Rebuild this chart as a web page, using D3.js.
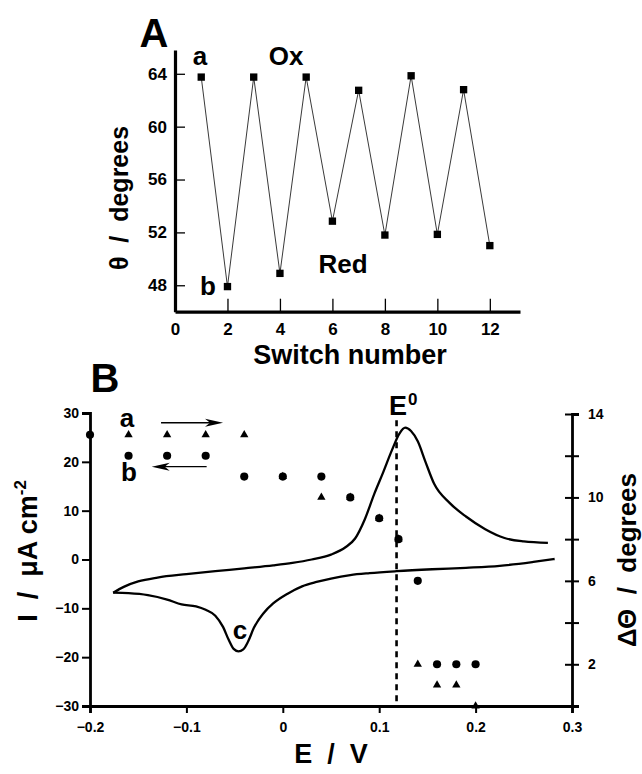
<!DOCTYPE html>
<html>
<head>
<meta charset="utf-8">
<script src="https://cdn.jsdelivr.net/npm/d3@7"></script>
<style>
  body { margin: 0; background: #fff; }
  svg { display: block; font-family: "Liberation Sans", Arial, sans-serif; font-weight: bold; }
  .axis path, .axis line { stroke: #000; }
  .axis text { font-family: "Liberation Sans", Arial, sans-serif; font-weight: bold; fill: #000; }
</style>
</head>
<body>
<svg id="chart" width="642" height="774"></svg>
<script>
// Panel A: contact angle vs switch number
const switchNumbers = [1, 2, 3, 4, 5, 6, 7, 8, 9, 10, 11, 12];
const contactAngle = [63.75, 47.9, 63.75, 48.9, 63.75, 52.85, 62.75, 51.8, 63.85, 51.85, 62.8, 51.0];
const switchTicks = [0, 2, 4, 6, 8, 10, 12];
const angleTicks = [48, 52, 56, 60, 64];

// Panel B: cyclic voltammogram, forward (anodic) sweep and reverse sweep
const cvForwardE = [-0.176, -0.165, -0.15, -0.13, -0.1, -0.07, -0.04, -0.01, 0.01, 0.03, 0.05, 0.065, 0.075,
  0.085, 0.095, 0.104, 0.113, 0.121, 0.127, 0.133, 0.14, 0.148, 0.157, 0.173, 0.19, 0.21, 0.23, 0.25, 0.275];
const cvForwardI = [-6.8, -5.6, -4.5, -3.7, -3.0, -2.4, -1.8, -1.2, -0.7, 0.0, 1.0, 2.5, 4.3,
  8.2, 13.5, 17.8, 22.3, 25.8, 27.0, 26.3, 24.2, 20.0, 15.5, 11.6, 8.8, 6.2, 4.4, 3.7, 3.4];
const cvReverseE = [0.282, 0.26, 0.225, 0.19, 0.155, 0.118, 0.09, 0.07, 0.05, 0.035, 0.02, 0.005, -0.01,
  -0.02, -0.03, -0.036, -0.041, -0.046, -0.051, -0.056, -0.062, -0.07, -0.08, -0.09, -0.105, -0.12, -0.14, -0.16, -0.176];
const cvReverseI = [0.1, -0.5, -1.3, -1.7, -2.0, -2.4, -2.8, -3.2, -3.9, -4.6, -5.5, -7.0, -9.0,
  -11.0, -14.0, -16.8, -18.4, -18.8, -18.3, -16.5, -13.8, -11.5, -10.3, -9.6, -9.2, -8.2, -7.3, -6.9, -6.8];

// contact angle change along the sweep (right axis)
const triE = [-0.16, -0.12, -0.08, -0.04, 0, 0.04, 0.07, 0.1, 0.12, 0.14, 0.16, 0.18, 0.2];
const triTheta = [13, 13, 13, 13, 11, 10, 10, 9, 8, 2, 1, 1, 0];
const circE = [-0.2, -0.16, -0.12, -0.08, -0.04, 0, 0.04, 0.07, 0.1, 0.12, 0.14, 0.16, 0.18, 0.2];
const circTheta = [13, 12, 12, 12, 11, 11, 11, 10, 9, 8, 6, 2, 2, 2];

const E0 = 0.118;
const eTicks = [-0.2, -0.1, 0, 0.1, 0.2, 0.3];
const currentTicks = [-30, -20, -10, 0, 10, 20, 30];
const deltaTicks = [2, 4, 6, 8, 10, 12, 14];
const deltaLabels = [2, 6, 10, 14];

const svg = d3.select('#chart');

// ---------- Panel A ----------
const xA = d3.scaleLinear().domain([0, 13.15]).range([175, 520]);
const yA = d3.scaleLinear().domain([46, 65.8]).range([311.7, 50]);

const gA = svg.append('g');

gA.append('g')
  .attr('class', 'axis')
  .attr('transform', `translate(0,${yA.range()[0]})`)
  .call(d3.axisBottom(xA).tickValues(switchTicks).tickSizeInner(-13).tickSizeOuter(0).tickPadding(11))
  .call(g => g.select('.domain').attr('stroke-width', 3.2))
  .call(g => g.selectAll('.tick line').attr('stroke-width', 1.3))
  .call(g => g.selectAll('.tick').filter(d => d === 0).select('line').remove())
  .call(g => g.selectAll('text').attr('font-size', 17));

gA.append('g')
  .attr('class', 'axis')
  .attr('transform', `translate(${xA.range()[0]},0)`)
  .call(d3.axisLeft(yA).tickValues(angleTicks).tickSizeInner(-10).tickSizeOuter(0).tickPadding(8))
  .call(g => g.select('.domain').attr('stroke-width', 3.2))
  .call(g => g.selectAll('.tick line').attr('stroke-width', 1.3))
  .call(g => g.selectAll('text').attr('font-size', 17));

const lineA = d3.line()
  .x((d, i) => xA(switchNumbers[i]))
  .y(d => yA(d));

gA.append('path')
  .datum(contactAngle)
  .attr('fill', 'none')
  .attr('stroke', '#222')
  .attr('stroke-width', 0.9)
  .attr('d', lineA);

gA.selectAll('.sq')
  .data(contactAngle)
  .join('path')
  .attr('class', 'sq')
  .attr('transform', (d, i) => `translate(${xA(switchNumbers[i])},${yA(d)})`)
  .attr('d', d3.symbol(d3.symbolSquare, 54));

gA.append('text').attr('x', 154).attr('y', 47).attr('text-anchor', 'middle')
  .attr('font-size', 40).text('A');
gA.append('text').attr('x', 200).attr('y', 65).attr('text-anchor', 'middle')
  .attr('font-size', 26).text('a');
gA.append('text').attr('x', 286).attr('y', 65).attr('text-anchor', 'middle')
  .attr('font-size', 26).text('Ox');
gA.append('text').attr('x', 208).attr('y', 295).attr('text-anchor', 'middle')
  .attr('font-size', 26).text('b');
gA.append('text').attr('x', 343).attr('y', 273).attr('text-anchor', 'middle')
  .attr('font-size', 26).text('Red');
gA.append('text').attr('x', 350).attr('y', 364).attr('text-anchor', 'middle')
  .attr('font-size', 27).text('Switch number');
gA.append('text').attr('transform', 'translate(128,198) rotate(-90)').attr('text-anchor', 'middle')
  .attr('font-size', 25).style('white-space', 'pre').text('θ  /  degrees');

// ---------- Panel B ----------
const xB = d3.scaleLinear().domain([-0.2, 0.3]).range([90, 572]);
const yI = d3.scaleLinear().domain([-30, 30]).range([706, 413]);
const yD = d3.scaleLinear().domain([0, 14]).range([706, 414]);

const gB = svg.append('g');

gB.append('g')
  .attr('class', 'axis')
  .attr('transform', `translate(0,${yI.range()[0]})`)
  .call(d3.axisBottom(xB).tickValues(eTicks).tickSize(7).tickPadding(9).tickFormat(d3.format('')))
  .call(g => g.select('.domain').attr('stroke-width', 2.8))
  .call(g => g.selectAll('.tick line').attr('stroke-width', 2))
  .call(g => g.selectAll('text').attr('font-size', 14));

gB.append('g')
  .attr('class', 'axis')
  .attr('transform', `translate(${xB.range()[0]},0)`)
  .call(d3.axisLeft(yI).tickValues(currentTicks).tickSize(8).tickPadding(3))
  .call(g => g.select('.domain').attr('stroke-width', 2.8))
  .call(g => g.selectAll('.tick line').attr('stroke-width', 2))
  .call(g => g.selectAll('text').attr('font-size', 14));

gB.append('g')
  .attr('class', 'axis')
  .attr('transform', `translate(${xB.range()[1]},0)`)
  .call(d3.axisRight(yD).tickValues(deltaTicks).tickSize(7).tickPadding(9)
    .tickFormat(d => deltaLabels.includes(d) ? d : ''))
  .call(g => g.select('.domain').attr('stroke-width', 2.8))
  .call(g => g.selectAll('.tick line').attr('x1', -7).attr('stroke-width', 2))
  .call(g => g.selectAll('text').attr('font-size', 14));

// cyclic voltammogram: two branches, joined only at the switching potential on the left
const cvLine = d3.line().x(d => xB(d[0])).y(d => yI(d[1])).curve(d3.curveMonotoneX);
const forwardPts = cvForwardE.map((e, i) => [e, cvForwardI[i]]);
const reversePts = cvReverseE.map((e, i) => [e, cvReverseI[i]]).reverse();

gB.selectAll('.cv')
  .data([forwardPts, reversePts])
  .join('path')
  .attr('class', 'cv')
  .attr('fill', 'none')
  .attr('stroke', '#000')
  .attr('stroke-width', 2.3)
  .attr('stroke-linejoin', 'round')
  .attr('d', cvLine);

// formal potential
gB.append('line')
  .attr('x1', xB(E0)).attr('x2', xB(E0))
  .attr('y1', yI(28.5)).attr('y2', yI(-30))
  .attr('stroke', '#000').attr('stroke-width', 2.6)
  .attr('stroke-dasharray', '6,5');

gB.selectAll('.circ')
  .data(circTheta)
  .join('path')
  .attr('class', 'circ')
  .attr('transform', (d, i) => `translate(${xB(circE[i])},${yD(d)})`)
  .attr('d', d3.symbol(d3.symbolCircle, 52));

gB.selectAll('.tri')
  .data(triTheta)
  .join('path')
  .attr('class', 'tri')
  .attr('transform', (d, i) => `translate(${xB(triE[i])},${yD(d)})`)
  .attr('d', d3.symbol(d3.symbolTriangle, 30));

// sweep direction arrows
function arrow(e1, e2, iVal) {
  const x1 = xB(e1), x2 = xB(e2), y = yI(iVal);
  const dir = Math.sign(x2 - x1);
  gB.append('line')
    .attr('x1', x1).attr('x2', x2 - dir * 8).attr('y1', y).attr('y2', y)
    .attr('stroke', '#000').attr('stroke-width', 1.3);
  gB.append('path')
    .attr('d', `M${x2},${y} L${x2 - dir * 18},${y - 4} L${x2 - dir * 13},${y} L${x2 - dir * 18},${y + 4} Z`)
    .attr('fill', '#000');
}
arrow(-0.1263, -0.062, 28.0);
arrow(-0.079, -0.136, 19.0);

gB.append('text').attr('x', 105).attr('y', 392).attr('text-anchor', 'middle')
  .attr('font-size', 40).text('B');
gB.append('text').attr('x', 127).attr('y', 427).attr('text-anchor', 'middle')
  .attr('font-size', 26).text('a');
gB.append('text').attr('x', 129).attr('y', 481).attr('text-anchor', 'middle')
  .attr('font-size', 26).text('b');
gB.append('text').attr('x', 240).attr('y', 639).attr('text-anchor', 'middle')
  .attr('font-size', 26).text('c');

const e0Label = gB.append('text').attr('x', 389).attr('y', 415).attr('font-size', 27);
e0Label.append('tspan').text('E');
e0Label.append('tspan').attr('dy', -10).attr('dx', 1).attr('font-size', 17).text('0');

gB.append('text').attr('x', 331).attr('y', 763).attr('text-anchor', 'middle')
  .attr('font-size', 27).style('white-space', 'pre').text('E  /  V');

const iLabel = gB.append('text').attr('transform', 'translate(37,551) rotate(-90)')
  .attr('text-anchor', 'middle').attr('font-size', 27).style('white-space', 'pre');
iLabel.append('tspan').text('I  /  μA cm');
iLabel.append('tspan').attr('dy', -11).attr('font-size', 17).text('-2');

gB.append('text').attr('transform', 'translate(636,560) rotate(-90)')
  .attr('text-anchor', 'middle').attr('font-size', 26).style('white-space', 'pre')
  .text('ΔΘ  /  degrees');
</script>
</body>
</html>
